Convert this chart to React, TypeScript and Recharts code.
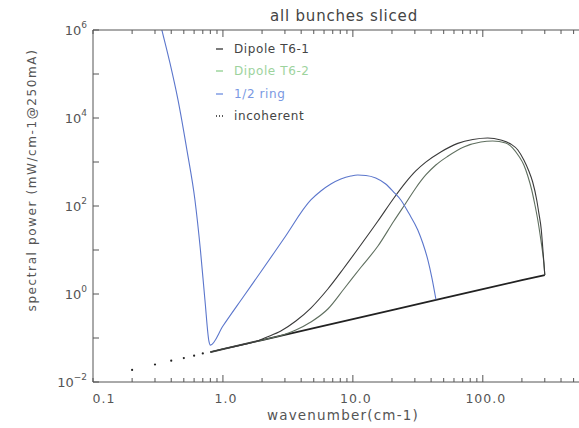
import { LineChart, Line, XAxis, YAxis, Legend, Label } from 'recharts'

// 1/2 ring (blue)
const ringX = [0.328, 0.339, 0.391, 0.451, 0.528, 0.609, 0.671, 0.727, 0.78, 0.8, 1, 1.45, 1.96, 2.94, 4.75, 5.67, 6.77, 8.08, 9.65, 10.9, 12.6, 15, 17.9, 20.6, 23.4, 26.9, 31.6, 34.5, 37.8, 40.5, 43.6]
const ringY = [1.5e6, 1e6, 1.78e5, 2.57e4, 1880, 137, 10, 0.73, 0.085, 0.069, 0.187, 0.9, 3.2, 18, 137, 219, 316, 410, 480, 505, 495, 433, 316, 208, 137, 69, 28.5, 14.4, 5.9, 2.4, 0.75]

// Dipole T6-1 (black)
const t61X = [0.8, 1, 1.375, 1.79, 2.14, 2.79, 3.64, 4.75, 6.42, 8.53, 11.5, 15.6, 20.7, 25.6, 30.5, 36.4, 47.5, 64.2, 83.8, 109, 137.5, 164, 186, 207, 226, 242, 260, 270, 282, 289, 295, 300]
const t61Y = [0.048, 0.056, 0.069, 0.083, 0.103, 0.144, 0.243, 0.48, 1.3, 3.9, 13, 45.6, 152, 348, 625, 990, 1688, 2650, 3245, 3510, 3162, 2566, 1874, 1110, 624, 351, 137, 69, 28.5, 11.7, 5.3, 2.7]

// Dipole T6-2 (green)
const t62X = [0.8, 1, 1.79, 2.34, 2.89, 3.64, 4.75, 6.42, 8.53, 11.5, 15.6, 20.7, 25.6, 30.5, 36.4, 43.5, 53.8, 71.4, 96.5, 119.4, 150, 170, 189, 207, 222, 238, 251, 265, 277, 287, 295, 300]
const t62Y = [0.048, 0.056, 0.083, 0.1, 0.117, 0.152, 0.231, 0.456, 1.3, 4.0, 12.3, 45.6, 117, 257, 507, 855, 1350, 2193, 2850, 3000, 2704, 2080, 1370, 855, 481, 231, 111, 48, 20.8, 10, 5.07, 2.7]

// incoherent
const incDotX = [0.2, 0.3, 0.4, 0.5, 0.6, 0.7]
const incDotY = [0.0188, 0.025, 0.0305, 0.035, 0.0397, 0.0446]
const incX = [0.8, 1, 2, 5, 10, 20, 50, 100, 200, 300]
const incY = [0.048, 0.056, 0.09, 0.168, 0.269, 0.43, 0.803, 1.285, 2.06, 2.7]

const xTicks = [0.1, 0.2, 0.3, 0.4, 0.5, 0.6, 0.7, 0.8, 0.9, 1, 2, 3, 4, 5, 6, 7, 8, 9, 10, 20, 30, 40, 50, 60, 70, 80, 90, 100, 200, 300, 400, 500]
const xLabels: Record<string, string> = { '0.1': '0.1', '1': '1.0', '10': '10.0', '100': '100.0' }
const yTicks = [0.01, 0.1, 1, 10, 100, 1000, 10000, 100000, 1000000]
const yExp: Record<string, string> = { '0.01': '−2', '1': '0', '100': '2', '10000': '4', '1000000': '6' }

const legendItems = [
  { name: 'Dipole T6-1', color: '#333333', text: '#444444', dash: '' },
  { name: 'Dipole T6-2', color: '#8fcf8f', text: '#9dd39d', dash: '' },
  { name: '1/2 ring', color: '#6f8fe0', text: '#7a98e2', dash: '' },
  { name: 'incoherent', color: '#222222', text: '#444444', dash: '1 2' },
]

const AXIS = '#555'
const FONT = 'DejaVu Sans'
const pts = (xs: number[], ys: number[]) => xs.map((x, i) => ({ x, y: ys[i] }))

function BottomTick({ x, y, payload }: any) {
  const v = payload.value
  const label = xLabels[String(v)]
  const major = v === 1 || v === 10 || v === 100
  return (
    <g>
      <line x1={x} x2={x} y1={y} y2={y - (major ? 7 : 4)} stroke={AXIS} />
      {label && (
        <text x={x + (v === 0.1 ? 11 : 3)} y={y + 21} textAnchor="middle" fontFamily={FONT} fontSize={12.5} letterSpacing={1} fill="#555">
          {label}
        </text>
      )}
    </g>
  )
}

function TopTick({ x, y, payload }: any) {
  const v = payload.value
  const major = v === 1 || v === 10 || v === 100
  return <line x1={x} x2={x} y1={y} y2={y + (major ? 7 : 4)} stroke={AXIS} />
}

function LeftTick({ x, y, payload }: any) {
  const exp = yExp[String(payload.value)]
  return (
    <g>
      <line x1={x} x2={x + 6} y1={y} y2={y} stroke={AXIS} />
      {exp && (
        <text x={x - 6} y={y + 5} textAnchor="end" fontFamily={FONT} fontSize={13} fill="#555">
          10<tspan dy={-7} fontSize={9}>{exp}</tspan>
        </text>
      )}
    </g>
  )
}

function RightTick({ x, y }: any) {
  return <line x1={x} x2={x - 6} y1={y} y2={y} stroke={AXIS} />
}

function LegendBox() {
  return (
    <div style={{ fontFamily: FONT, fontSize: 12, letterSpacing: 0.6 }}>
      {legendItems.map((it) => (
        <div key={it.name} style={{ display: 'flex', alignItems: 'center', height: 22.3 }}>
          <svg width={19} height={10}>
            <line x1={1} x2={8} y1={5} y2={5} stroke={it.color} strokeWidth={1.3} strokeDasharray={it.dash || undefined} />
          </svg>
          <span style={{ color: it.text }}>{it.name}</span>
        </div>
      ))}
    </div>
  )
}

export default function App() {
  return (
    <div style={{ position: 'absolute', left: 0, top: 0, background: '#fff' }}>
      <LineChart width={579} height={428} margin={{ top: 0, right: 0, bottom: 0, left: 0 }}>
        <XAxis
          dataKey="x"
          type="number"
          scale="log"
          domain={[0.1, 550]}
          allowDataOverflow
          ticks={xTicks}
          interval={0}
          height={46}
          tickSize={0}
          tickMargin={0}
          tickLine={false}
          axisLine={{ stroke: AXIS }}
          tick={BottomTick}
        >
          <Label
            content={() => (
              <text x={343} y={420} textAnchor="middle" fontFamily={FONT} fontSize={13.5} letterSpacing={1.2} fill="#555">
                wavenumber(cm-1)
              </text>
            )}
          />
        </XAxis>
        <XAxis
          xAxisId="top"
          orientation="top"
          dataKey="x"
          type="number"
          scale="log"
          domain={[0.1, 550]}
          allowDataOverflow
          ticks={xTicks}
          interval={0}
          height={30}
          tickSize={0}
          tickMargin={0}
          tickLine={false}
          axisLine={{ stroke: AXIS }}
          tick={TopTick}
        >
          <Label
            content={() => (
              <text x={344} y={21} textAnchor="middle" fontFamily={FONT} fontSize={15} letterSpacing={0.8} fill="#444">
                all bunches sliced
              </text>
            )}
          />
        </XAxis>
        <YAxis
          type="number"
          scale="log"
          domain={[0.01, 1000000]}
          allowDataOverflow
          ticks={yTicks}
          interval={0}
          width={93}
          tickSize={0}
          tickMargin={0}
          tickLine={false}
          axisLine={{ stroke: AXIS }}
          tick={LeftTick}
        >
          <Label
            content={() => (
              <text
                x={32}
                y={180}
                transform="rotate(-90, 32, 180)"
                textAnchor="middle"
                dominantBaseline="middle"
                fontFamily={FONT}
                fontSize={12}
                letterSpacing={1.6}
                fill="#555"
              >
                spectral power (mW/cm-1@250mA)
              </text>
            )}
          />
        </YAxis>
        <YAxis
          yAxisId="right"
          orientation="right"
          type="number"
          scale="log"
          domain={[0.01, 1000000]}
          allowDataOverflow
          ticks={yTicks}
          interval={0}
          width={0}
          tickSize={0}
          tickMargin={0}
          tickLine={false}
          axisLine={{ stroke: AXIS }}
          tick={RightTick}
        />
        <Legend
          layout="vertical"
          align="center"
          verticalAlign="middle"
          content={LegendBox}
          wrapperStyle={{ left: 215, top: 38, width: 'auto', height: 'auto' }}
        />
        <Line data={pts(incX, incY)} dataKey="y" type="linear" stroke="#222" strokeWidth={1.8} dot={false} isAnimationActive={false} />
        <Line
          data={pts(incDotX, incDotY)}
          dataKey="y"
          type="linear"
          stroke="none"
          dot={{ r: 1.1, fill: '#222', stroke: 'none' }}
          isAnimationActive={false}
        />
        <Line data={pts(t62X, t62Y)} dataKey="y" type="monotone" stroke="#5f6f5f" strokeWidth={1.1} dot={false} isAnimationActive={false} />
        <Line data={pts(t61X, t61Y)} dataKey="y" type="monotone" stroke="#3a3a3a" strokeWidth={1.1} dot={false} isAnimationActive={false} />
        <Line data={pts(ringX, ringY)} dataKey="y" type="monotone" stroke="#5b76cc" strokeWidth={1.1} dot={false} isAnimationActive={false} />
      </LineChart>
    </div>
  )
}
